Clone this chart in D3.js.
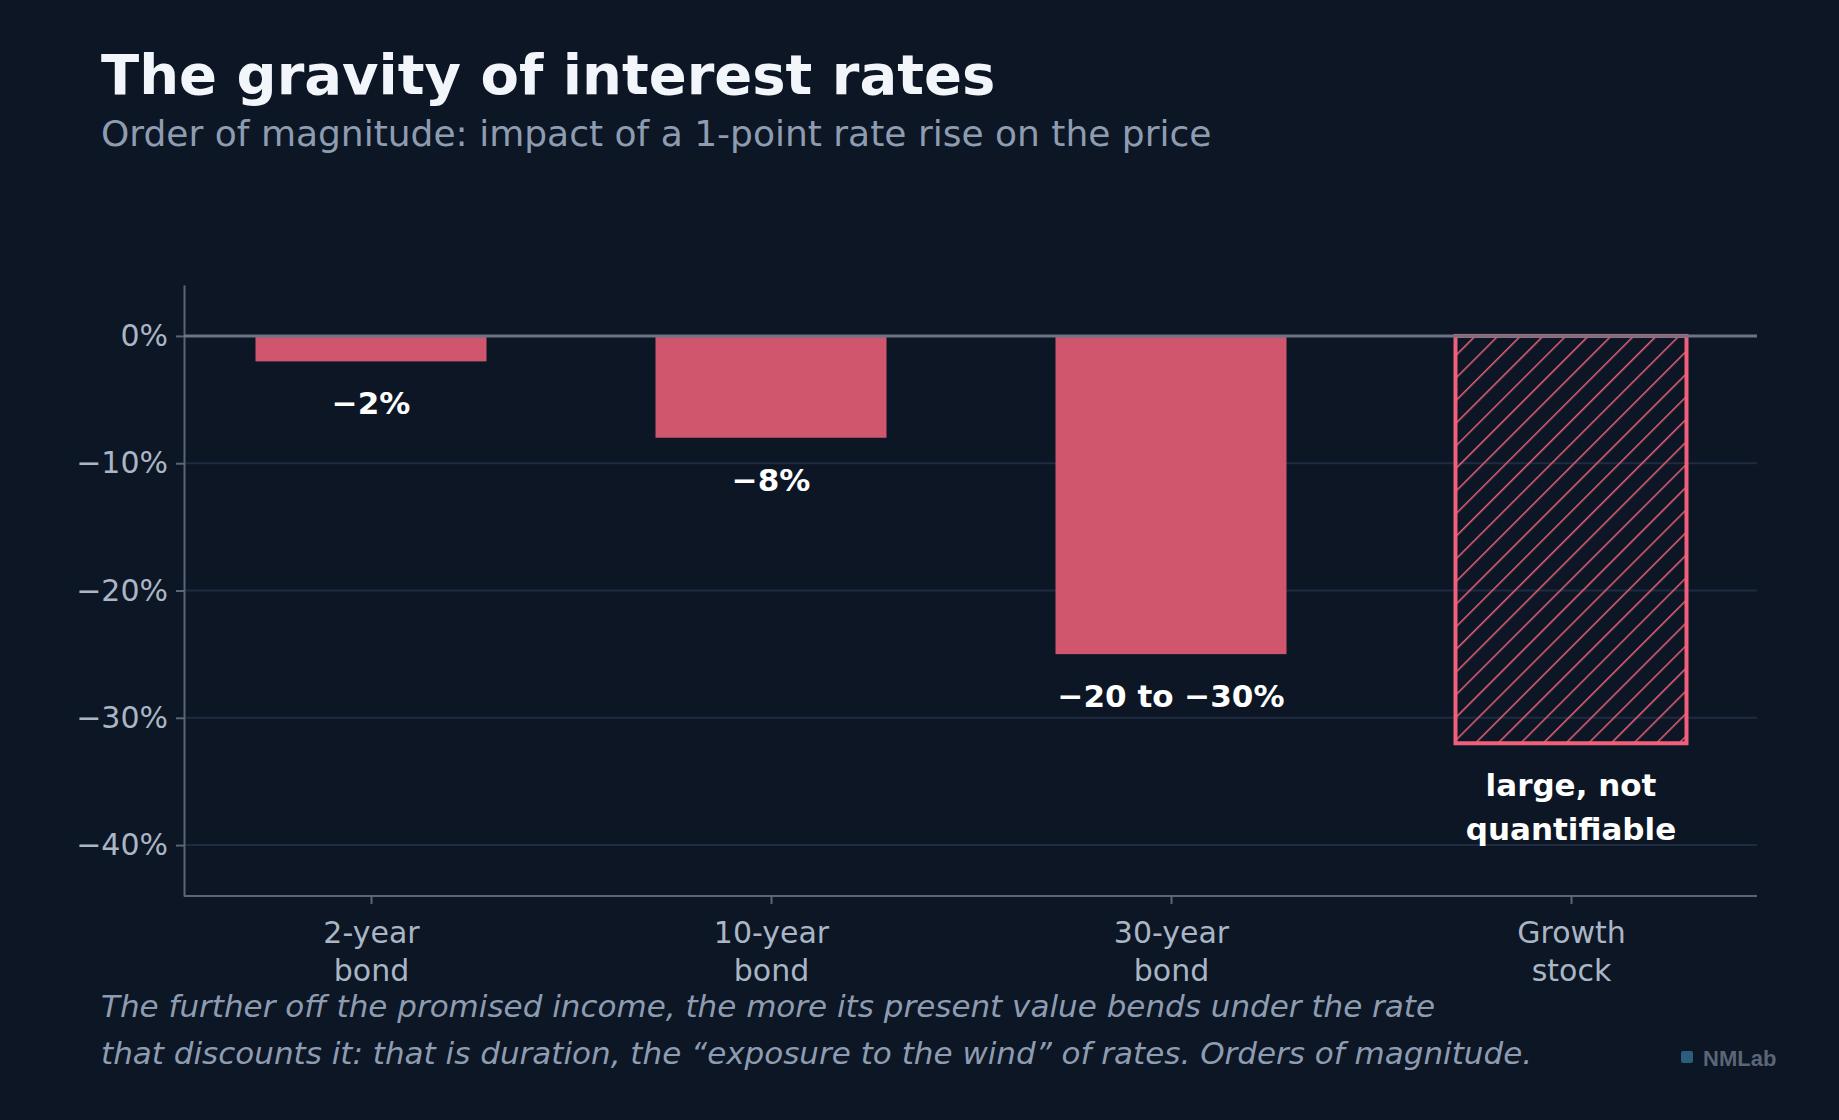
<!DOCTYPE html>
<html><head><meta charset="utf-8">
<script src="https://cdn.jsdelivr.net/npm/d3@7"></script>
<style>body{margin:0;background:#0c1624;}svg{display:block;font-family:"DejaVu Sans",sans-serif;}</style>
</head><body><svg id="chart" width="1839" height="1120"></svg>
<script>
const categories = [["2-year", "bond"], ["10-year", "bond"], ["30-year", "bond"], ["Growth", "stock"]];
const values = [-2, -8, -25, -32];
const valueLabels = [["−2%"], ["−8%"], ["−20 to −30%"], ["large, not", "quantifiable"]];
const hatched = [false, false, false, true];
const yTicks = [0, -10, -20, -30, -40];

const svg = d3.select("#chart");
svg.append("rect").attr("width", 1839).attr("height", 1120).attr("fill", "#0c1624");

const defs = svg.append("defs");
const pat = defs.append("pattern").attr("id", "hatch").attr("patternUnits", "userSpaceOnUse")
  .attr("width", 16).attr("height", 16).attr("patternTransform", "rotate(45)");
pat.append("line").attr("x1", 0).attr("y1", 0).attr("x2", 0).attr("y2", 16)
  .attr("stroke", "#e8607a").attr("stroke-width", 3);

const plotL = 184, plotR = 1757, plotT = 285, plotB = 896;
const y = d3.scaleLinear().domain([-44, 4]).range([plotB, plotT]);
const x = d3.scaleLinear().domain([0, 3]).range([371, 1571]);
const bw = 231;

// grid
svg.append("g").selectAll("line").data(yTicks.filter(d => d !== 0)).join("line")
  .attr("x1", plotL).attr("x2", plotR).attr("y1", d => y(d)).attr("y2", d => y(d))
  .attr("stroke", "#1f2b40").attr("stroke-width", 2);

// axes
const yAxis = svg.append("g").attr("transform", `translate(${plotL},0)`)
  .call(d3.axisLeft(y).tickValues(yTicks).tickSizeInner(8).tickSizeOuter(0).tickPadding(8)
    .tickFormat(d => (d < 0 ? "−" + Math.abs(d) : d) + "%"));
const xAxis = svg.append("g").attr("transform", `translate(0,${plotB})`)
  .call(d3.axisBottom(x).tickValues([0, 1, 2, 3]).tickSizeInner(8).tickSizeOuter(0).tickFormat(""));
xAxis.select(".domain").remove();
xAxis.append("line").attr("x1", plotL).attr("x2", plotR).attr("stroke", "#5a6577").attr("stroke-width", 2);
[yAxis, xAxis].forEach(a => {
  a.select(".domain").attr("stroke", "#5a6577").attr("stroke-width", 2);
  a.selectAll(".tick line").attr("stroke", "#5a6577").attr("stroke-width", 2);
});
yAxis.selectAll(".tick text").attr("fill", "#aab5c5").attr("font-size", 30)
  .attr("font-family", "DejaVu Sans");

xAxis.selectAll(".tick").each(function(d) {
  const t = d3.select(this).append("text").attr("fill", "#aab5c5").attr("font-size", 30)
    .attr("font-family", "DejaVu Sans").attr("text-anchor", "middle");
  categories[d].forEach((s, k) => t.append("tspan").attr("x", 0).attr("y", 47 + k * 38).text(s));
});

// bars
values.forEach((v, i) => {
  svg.append("rect").attr("x", x(i) - bw / 2).attr("y", y(0)).attr("width", bw)
    .attr("height", y(v) - y(0))
    .attr("fill", hatched[i] ? "url(#hatch)" : "#d0566e")
    .attr("stroke", hatched[i] ? "#f0607a" : "none").attr("stroke-width", 4);
  const t = svg.append("text").attr("fill", "#ffffff").attr("font-weight", "bold")
    .attr("font-size", 31).attr("text-anchor", "middle");
  valueLabels[i].forEach((s, k) => t.append("tspan").attr("x", x(i))
    .attr("y", y(v) + 53 + k * 44).text(s));
});

// zero line
svg.append("line").attr("x1", plotL).attr("x2", plotR).attr("y1", y(0)).attr("y2", y(0))
  .attr("stroke", "#6b7585").attr("stroke-width", 3);

// titles
svg.append("text").attr("x", 101).attr("y", 94).attr("fill", "#f2f5fa").attr("font-weight", "bold")
  .attr("font-size", 56).text("The gravity of interest rates");
svg.append("text").attr("x", 101).attr("y", 146).attr("fill", "#8e9cb2").attr("font-size", 36)
  .text("Order of magnitude: impact of a 1-point rate rise on the price");

const notes = ["The further off the promised income, the more its present value bends under the rate",
  "that discounts it: that is duration, the “exposure to the wind” of rates. Orders of magnitude."];
notes.forEach((s, k) => svg.append("text").attr("x", 101).attr("y", 1017 + k * 47)
  .attr("fill", "#8e9cb2").attr("font-style", "italic").attr("font-size", 31).text(s));

svg.append("rect").attr("x", 1681).attr("y", 1051).attr("width", 12).attr("height", 12).attr("rx", 2)
  .attr("fill", "#2b5d7c");
svg.append("text").attr("x", 1703).attr("y", 1066).attr("fill", "#5a6577").attr("font-weight", "bold")
  .attr("font-family", "Liberation Sans, Arial, sans-serif").attr("font-size", 22).text("NMLab");
</script></body></html>
